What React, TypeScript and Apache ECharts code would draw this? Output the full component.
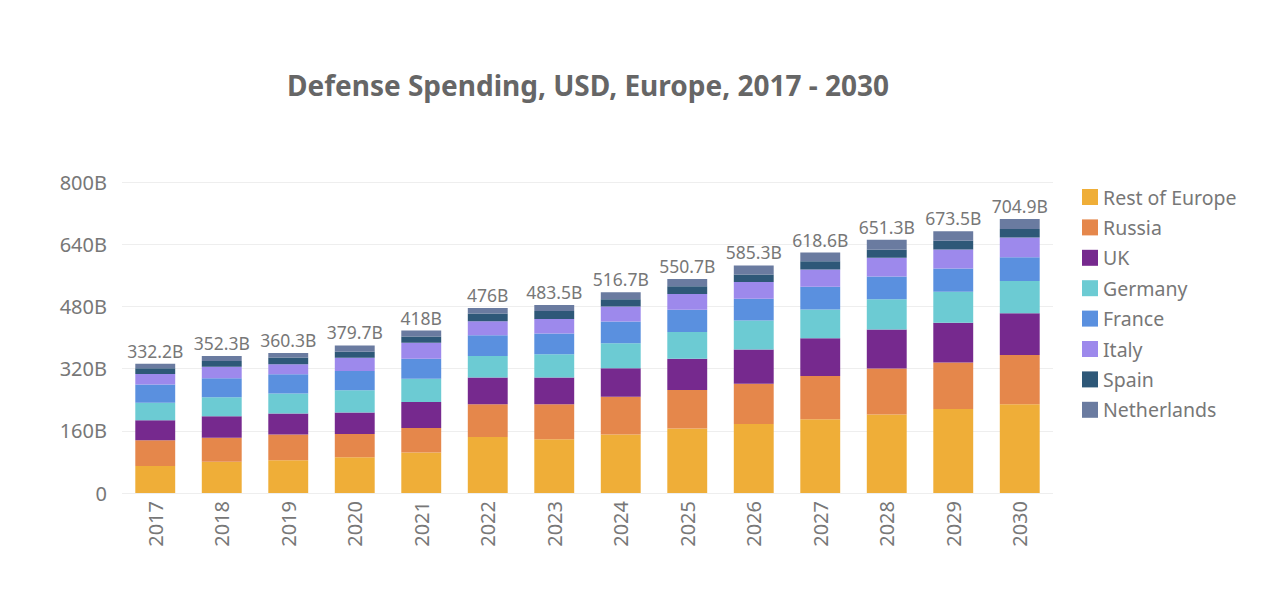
import React, { useEffect, useRef } from "react";
import * as echarts from "echarts";

const years = ["2017", "2018", "2019", "2020", "2021", "2022", "2023", "2024", "2025", "2026", "2027", "2028", "2029", "2030"];
const seriesNames = ["Rest of Europe", "Russia", "UK", "Germany", "France", "Italy", "Spain", "Netherlands"];
const restOfEurope = [69.6, 80.4, 84.5, 92.1, 104.0, 143.8, 138.0, 150.2, 165.8, 177.8, 189.5, 202.2, 216.0, 228.3];
const russia = [66.2, 62.0, 66.0, 59.7, 63.5, 84.4, 90.5, 97.5, 99.3, 103.2, 111.6, 118.0, 120.0, 127.0];
const uk = [51.2, 55.0, 54.0, 55.5, 66.8, 68.6, 68.6, 73.0, 80.2, 88.4, 96.8, 100.1, 102.0, 107.2];
const germany = [45.2, 48.6, 51.4, 57.2, 59.7, 55.8, 60.1, 64.5, 68.8, 74.6, 74.3, 77.9, 79.6, 83.1];
const france = [46.9, 48.9, 49.7, 49.5, 51.2, 53.2, 53.2, 55.8, 57.6, 55.8, 58.1, 59.0, 59.9, 60.9];
const italy = [27.3, 29.9, 25.6, 34.1, 41.0, 35.9, 36.9, 38.7, 40.4, 42.8, 44.5, 47.9, 48.8, 50.5];
const spain = [14.6, 14.7, 17.2, 15.4, 16.4, 19.8, 20.6, 18.9, 19.8, 19.6, 21.5, 20.6, 22.3, 22.3];
const netherlands = [11.2, 12.8, 11.9, 16.2, 15.4, 14.5, 15.6, 18.1, 18.8, 23.1, 22.3, 25.6, 24.9, 25.6];
const totals = [332.2, 352.3, 360.3, 379.7, 418, 476, 483.5, 516.7, 550.7, 585.3, 618.6, 651.3, 673.5, 704.9];
const yTicks = [0, 160, 320, 480, 640, 800];

const seriesData = [restOfEurope, russia, uk, germany, france, italy, spain, netherlands];
const colors = ["#EFAE38", "#E5874B", "#76298E", "#6CCBD3", "#5A90DF", "#9D89EC", "#2E5878", "#6A7BA0"];

const FONT = "Noto Sans";

export default function App() {
  const ref = useRef<HTMLDivElement>(null);
  useEffect(() => {
    document.body.style.margin = "0";
    if (!ref.current) return;
    const chart = echarts.init(ref.current, null, { renderer: "svg" });
    const series: any[] = seriesNames.map((name, i) => ({
      name,
      type: "bar",
      stack: "total",
      data: seriesData[i],
      barWidth: "60%",
      itemStyle: { color: colors[i] },
      label:
        i === seriesNames.length - 1
          ? {
              show: true,
              position: "top",
              distance: 4,
              color: "#777777",
              fontSize: 17.5,
              fontFamily: FONT,
              formatter: (p: any) => totals[p.dataIndex] + "B",
            }
          : { show: false },
    }));
    chart.setOption({
      animation: false,
      color: colors,
      textStyle: { fontFamily: FONT },
      title: {
        text: "Defense Spending, USD, Europe, 2017 - 2030",
        left: 588,
        top: 71,
        padding: 0,
        textAlign: "center",
        textStyle: { fontSize: 28, fontWeight: "bold", color: "#666666", fontFamily: FONT },
      },
      legend: {
        orient: "vertical",
        left: 1082,
        top: 187,
        padding: 0,
        itemWidth: 16,
        itemHeight: 16,
        itemGap: 10.4,
        icon: "rect",
        data: seriesNames,
        textStyle: { fontSize: 19.5, color: "#777777", fontFamily: FONT, lineHeight: 19.4 },
      },
      grid: { left: 122, right: 225, top: 182, bottom: 123 },
      xAxis: {
        type: "category",
        data: years,
        axisLine: { show: false },
        axisTick: { show: false },
        axisLabel: { rotate: 90, fontSize: 20, color: "#777777", margin: 8, fontFamily: FONT },
      },
      yAxis: {
        type: "value",
        min: yTicks[0],
        max: yTicks[yTicks.length - 1],
        interval: 160,
        axisLine: { show: false },
        axisTick: { show: false },
        splitLine: { lineStyle: { color: "#EEEEEE", width: 1 } },
        axisLabel: {
          fontSize: 20,
          color: "#777777",
          margin: 15,
          fontFamily: FONT,
          formatter: (v: number) => (v === 0 ? "0" : v + "B"),
        },
      },
      series,
    });
    return () => chart.dispose();
  }, []);
  return <div ref={ref} style={{ width: 1278, height: 616, background: "#fff" }} />;
}
